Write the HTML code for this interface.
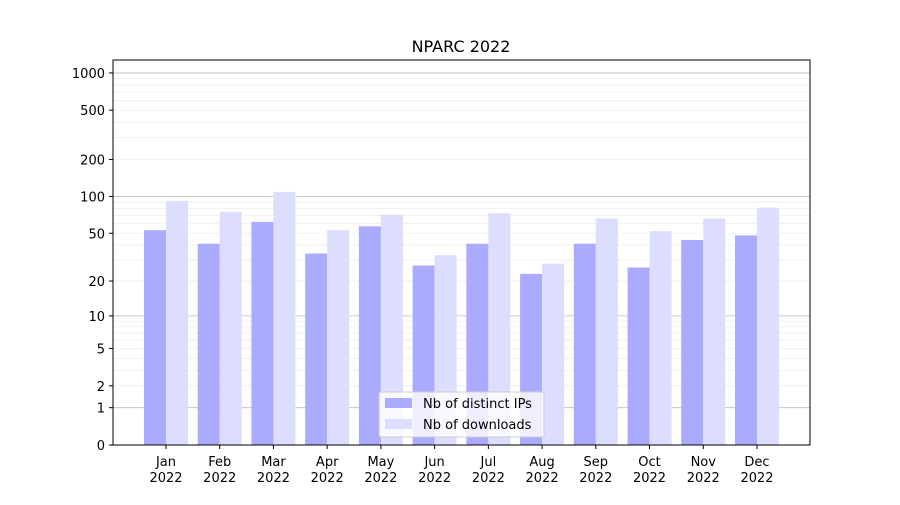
<!DOCTYPE html>
<html><head><meta charset="utf-8"><style>
body{margin:0;background:#fff;}
svg text{font-family:"DejaVu Sans","Liberation Sans",sans-serif;font-size:13px;fill:#000;}
</style></head><body>
<svg id="chart" width="900" height="500" xmlns="http://www.w3.org/2000/svg">
<rect width="900" height="500" fill="#fff"/>
<text x="461" y="52" text-anchor="middle" style="font-size:16px">NPARC 2022</text>
<g id="grid"></g>
<g id="bars"></g>
<g id="axes"></g>
<rect x="113" y="60" width="697" height="385" fill="none" stroke="#000" stroke-width="1"/>
<g>
<rect x="379" y="392" width="165" height="45" fill="#fff" fill-opacity="0.8" stroke="#ccc" rx="2"/>
<rect x="385" y="398" width="27" height="10" fill="#aaaaff"/>
<text x="423" y="408">Nb of distinct IPs</text>
<rect x="385" y="419" width="27" height="10" fill="#ddddff"/>
<text x="423" y="429">Nb of downloads</text>
</g>
</svg>
<script>
const months=["Jan","Feb","Mar","Apr","May","Jun","Jul","Aug","Sep","Oct","Nov","Dec"];
const ips=[53,41,62,34,57,27,41,23,41,26,44,48];
const downloads=[92,75,109,53,71,33,73,28,66,52,66,81];
const yTicks=[0,1,2,5,10,20,50,100,200,500,1000];
const NS="http://www.w3.org/2000/svg";
const y0=445,pxPer=124,left=113,right=810;
function y(v){return y0-Math.log10(v+1)*pxPer;}
function xc(i){return 166+i*(757-166)/11;}
const bw=22;
function el(t,a,p){const e=document.createElementNS(NS,t);for(const k in a)e.setAttribute(k,a[k]);p.appendChild(e);return e;}
const grid=document.getElementById('grid'),bars=document.getElementById('bars'),axes=document.getElementById('axes');
// minor grid
for(const d of [1,10,100,1000]){for(let m=2;m<=9;m++){const v=d*m;if(y(v)<60)continue;
const l=el('line',{x1:left,x2:right,y1:y(v),y2:y(v),stroke:'#eee','stroke-width':0.8},grid);

}}
for(const v of [1,10,100,1000]){
const l=el('line',{x1:left,x2:right,y1:y(v),y2:y(v),stroke:'#bbb','stroke-width':0.8},grid);

}
months.forEach((m,i)=>{
const a=el('rect',{x:xc(i)-bw,y:y(ips[i]),width:bw,height:y0-y(ips[i]),fill:'#aaaaff'},bars);


const b=el('rect',{x:xc(i),y:y(downloads[i]),width:bw,height:y0-y(downloads[i]),fill:'#ddddff'},bars);


el('line',{x1:xc(i),x2:xc(i),y1:445,y2:449,stroke:'#000'},axes);
const t=el('text',{x:xc(i),y:466,'text-anchor':'middle'},axes);t.textContent=m;


const t2=el('text',{x:xc(i),y:482,'text-anchor':'middle'},axes);t2.textContent='2022';


});
yTicks.forEach(v=>{
el('line',{x1:109,x2:113,y1:y(v),y2:y(v),stroke:'#000'},axes);
const t=el('text',{x:105,y:y(v)+5,'text-anchor':'end'},axes);t.textContent=v;


});
</script>
</body></html>
